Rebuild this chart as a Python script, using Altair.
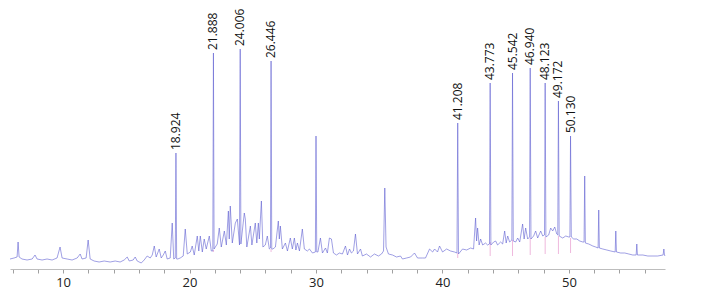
import altair as alt
import pandas as pd

# Chromatogram trace (retention time in min, detector signal in arbitrary units)
trace_time = [
    5.80, 6.12, 6.36, 6.44, 6.52, 6.75, 7.15, 7.55, 7.78, 7.94, 8.34, 8.73, 9.13, 9.52, 9.76, 9.92,
    10.32, 10.71, 11.11, 11.35, 11.50, 11.82, 11.98, 12.14, 12.45, 12.85, 13.25, 13.72, 14.12, 14.51,
    14.83, 15.07, 15.23, 15.54, 15.70, 15.86, 16.18, 16.41, 16.65, 16.89, 17.05, 17.21, 17.36, 17.60,
    17.76, 17.92, 18.08, 18.23, 18.47, 18.63, 18.75, 18.87, 18.98, 19.07, 19.26, 19.50, 19.66, 19.82,
    20.06, 20.21, 20.37, 20.61, 20.73, 20.85, 21.01, 21.16, 21.32, 21.56, 21.72, 21.84, 21.94, 22.19,
    22.35, 22.51, 22.75, 22.91, 23.07, 23.14, 23.22, 23.38, 23.62, 23.78, 23.95, 24.06, 24.33, 24.41,
    24.53, 24.81, 24.93, 25.04, 25.20, 25.32, 25.44, 25.52, 25.68, 25.80, 25.99, 26.15, 26.31, 26.40,
    26.50, 26.59, 26.79, 27.02, 27.10, 27.18, 27.34, 27.58, 27.74, 27.97, 28.13, 28.29, 28.41, 28.53,
    28.69, 28.92, 29.08, 29.32, 29.48, 29.72, 29.95, 30.00, 30.06, 30.15, 30.35, 30.51, 30.75, 30.90,
    31.06, 31.22, 31.38, 31.62, 31.85, 32.09, 32.33, 32.49, 32.65, 32.80, 32.96, 33.12, 33.28, 33.52,
    33.67, 33.99, 34.31, 34.62, 34.94, 35.18, 35.34, 35.44, 35.54, 35.73, 36.05, 36.37, 36.68, 36.84,
    37.16, 37.48, 37.79, 38.03, 38.43, 38.66, 38.98, 39.22, 39.38, 39.61, 39.77, 40.01, 40.33, 40.64,
    40.96, 41.15, 41.27, 41.59, 41.91, 42.23, 42.46, 42.62, 42.70, 42.78, 42.90, 43.02, 43.18, 43.41,
    43.57, 43.72, 43.83, 44.05, 44.21, 44.36, 44.60, 44.76, 44.92, 45.04, 45.16, 45.31, 45.49, 45.60,
    45.79, 45.95, 46.11, 46.34, 46.46, 46.58, 46.74, 46.89, 47.00, 47.21, 47.37, 47.53, 47.77, 47.93,
    48.07, 48.18, 48.40, 48.56, 48.72, 48.88, 49.04, 49.12, 49.23, 49.51, 49.75, 49.99, 50.08, 50.19,
    50.38, 50.62, 50.86, 51.10, 51.20, 51.25, 51.30, 51.57, 51.89, 52.12, 52.31, 52.36, 52.41, 52.68,
    53.00, 53.31, 53.66, 53.71, 53.76, 54.10, 54.42, 54.74, 55.05, 55.32, 55.37, 55.42, 55.85, 56.24,
    56.64, 57.03, 57.45, 57.51, 57.56, 57.60,
]
trace_signal = [
    10, 11, 12, 27, 12, 10, 9, 10, 14, 10, 9, 10, 9, 11, 22, 11,
    10, 9, 11, 15, 10, 11, 29, 10, 8, 7, 8, 7, 8, 7,
    9, 12, 8, 9, 12, 8, 6, 9, 13, 11, 14, 23, 12, 20,
    11, 14, 18, 10, 11, 46, 10, 11, 10, 10, 11, 13, 40, 15,
    17, 23, 14, 33, 18, 33, 17, 30, 20, 33, 18, 18, 20, 25,
    41, 22, 38, 24, 58, 30, 63, 26, 46, 50, 24, 25, 56, 50,
    22, 43, 24, 33, 46, 26, 46, 30, 68, 22, 24, 33, 20, 21,
    20, 20, 22, 48, 30, 43, 20, 26, 18, 31, 20, 31, 19, 26,
    18, 40, 20, 18, 20, 16, 17, 133, 17, 17, 31, 16, 21, 16,
    31, 30, 16, 14, 16, 15, 23, 14, 20, 16, 18, 35, 15, 20,
    13, 15, 12, 15, 13, 15, 18, 81, 22, 15, 14, 12, 13, 10,
    11, 12, 16, 11, 11, 11, 20, 17, 20, 17, 23, 17, 20, 18,
    17, 16, 15, 20, 19, 21, 20, 51, 28, 41, 24, 30, 24, 26,
    24, 25, 24, 27, 28, 24, 27, 25, 38, 26, 33, 27, 29, 28,
    27, 31, 27, 45, 30, 41, 30, 32, 30, 33, 38, 31, 38, 33,
    34, 32, 34, 41, 38, 42, 35, 34, 33, 31, 33, 32, 32, 32,
    30, 30, 28, 27, 27, 93, 26, 25, 23, 22, 21, 59, 21, 20,
    19, 18, 17, 38, 17, 16, 16, 15, 14, 14, 25, 14, 14, 13,
    13, 13, 14, 20, 14, 13,
]

# Labelled peaks
peak_time = [18.924, 21.888, 24.006, 26.446, 41.208, 43.773, 45.542, 46.940, 48.123, 49.172, 50.130]
peak_signal = [116, 216, 220, 208, 146, 186, 196, 201, 186, 168, 133]
peak_label = ["18.924", "21.888", "24.006", "26.446", "41.208", "43.773",
              "45.542", "46.940", "48.123", "49.172", "50.130"]

# Integration markers (pink) under labelled peaks
mark_time = [21.888, 26.446, 41.208, 43.773, 45.542, 46.940, 48.123, 49.172, 50.130]
mark_low = [17, 17, 11, 13, 13, 14, 15, 15, 16]
mark_high = [19, 20, 16, 27, 29, 31, 32, 33, 31]

line_df = pd.DataFrame({
    "time": trace_time + peak_time,
    "signal": trace_signal + peak_signal,
}).sort_values("time").reset_index(drop=True)
peak_df = pd.DataFrame({"time": peak_time, "signal": peak_signal, "label": peak_label})
mark_df = pd.DataFrame({"time": mark_time, "low": mark_low, "high": mark_high})

xscale = alt.Scale(domain=[5.8, 57.6], nice=False, zero=False)
yscale = alt.Scale(domain=[0, 260], nice=False, zero=True)

xaxis = alt.Axis(
    values=list(range(6, 58, 2)),
    labelExpr="datum.value % 10 == 0 ? datum.label : ''",
    labelOverlap=False,
    grid=False,
    title=None,
    domainColor="#bdbdbd",
    tickColor="#a0a0a0",
    tickSize=4,
    labelFont="Open Sans",
    labelFontSize=13,
    labelColor="#222222",
    labelPadding=3,
)

marks = alt.Chart(mark_df).mark_rule(color="#e58ac6", strokeWidth=1, opacity=0.6).encode(
    x=alt.X("time:Q", scale=xscale, axis=xaxis),
    y=alt.Y("low:Q", scale=yscale, axis=None),
    y2="high:Q",
)

line = alt.Chart(line_df).mark_line(
    color="#5c5cd0", strokeWidth=0.9, opacity=0.65, interpolate="linear"
).encode(
    x=alt.X("time:Q", scale=xscale, axis=xaxis),
    y=alt.Y("signal:Q", scale=yscale, axis=None),
    order="time:Q",
)

labels = alt.Chart(peak_df).mark_text(
    angle=270, align="left", baseline="middle", dx=3,
    font="Open Sans", fontSize=12, color="#111111",
).encode(
    x=alt.X("time:Q", scale=xscale, axis=xaxis),
    y=alt.Y("signal:Q", scale=yscale, axis=None),
    text="label:N",
)

chart = alt.layer(marks, line, labels).properties(
    width=655, height=260,
    padding={"left": 0, "top": 0, "right": 0, "bottom": 0},
    background="white",
).configure_view(stroke=None)

chart.save("out.html", embed_options={"renderer": "svg", "actions": False})
